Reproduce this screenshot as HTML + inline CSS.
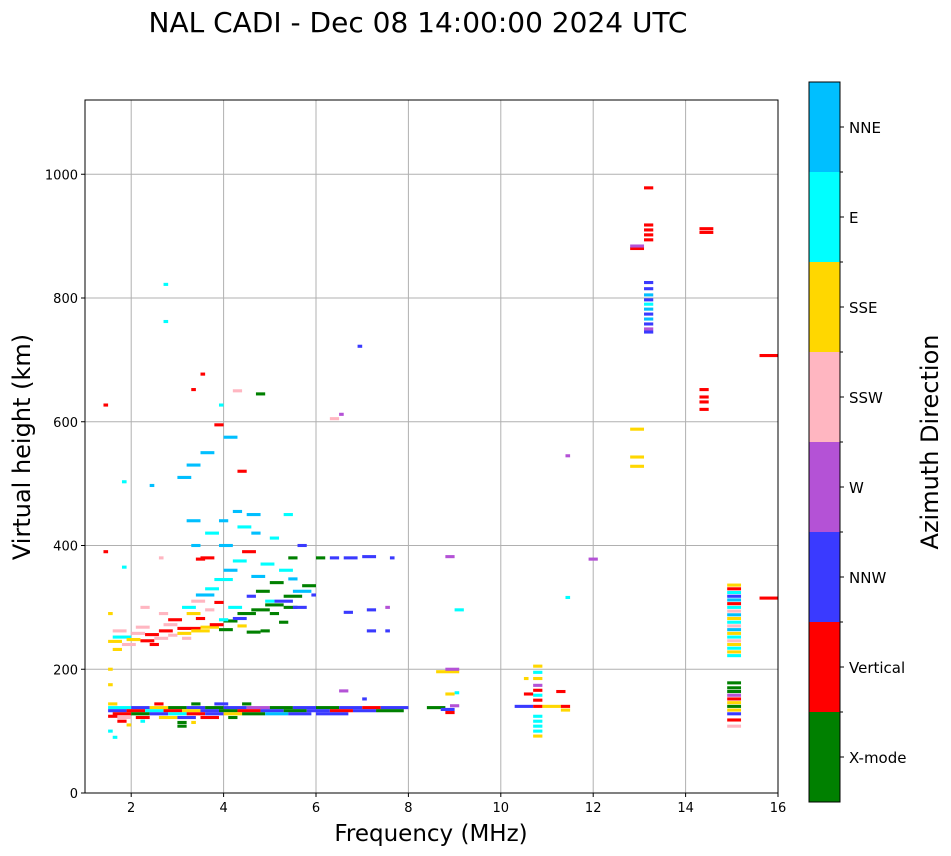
<!DOCTYPE html>
<html><head><meta charset="utf-8"><style>
html,body{margin:0;padding:0;background:#fff;}
svg{display:block;font-family:"DejaVu Sans","Liberation Sans",sans-serif;}
</style></head><body>
<svg id="chart" width="951" height="856" xmlns="http://www.w3.org/2000/svg">
<text x="418" y="32" font-size="28" text-anchor="middle">NAL CADI - Dec 08 14:00:00 2024 UTC</text>
<g id="grid"></g>
<g id="marks"></g>
<rect x="85" y="100" width="693" height="693" fill="none" stroke="#000" stroke-width="1"/>
<g id="axes"></g>
<text x="431" y="841" font-size="23" text-anchor="middle">Frequency (MHz)</text>
<text transform="translate(30,447) rotate(-90)" font-size="24" text-anchor="middle">Virtual height (km)</text>
<g id="cbar"></g>
<text transform="translate(938,442) rotate(-90)" font-size="24" text-anchor="middle">Azimuth Direction</text>
</svg>
<script>
const dirNames = ["X-mode","Vertical","NNW","W","SSW","SSE","E","NNE"];
const dirColors = ["#008000","#ff0000","#3a3aff","#b452d6","#ffb6c1","#ffd700","#00ffff","#00bfff"];
const xTicks = [2,4,6,8,10,12,14,16];
const yTicks = [0,200,400,600,800,1000];
const segStart = [];
const segEnd = [];
const segHeight = [];
const segDir = [];
const echoes = [
[1.5,2.0,138,6],[2.0,2.4,138,2],[2.4,2.8,138,5],[2.8,3.2,138,0],[3.2,3.6,138,2],[3.6,4.0,138,0],[4.0,4.5,138,2],[4.5,5.0,138,3],[5.0,5.5,138,0],[5.5,6.0,138,2],[6.0,6.5,138,0],[6.5,7.0,138,2],[7.0,7.4,138,1],[7.4,8.0,138,2],
[1.5,1.9,133,2],[1.9,2.3,133,1],[2.3,2.7,133,6],[2.7,3.1,133,1],[3.1,3.5,133,5],[3.5,3.9,133,2],[3.9,4.3,133,0],[4.3,4.8,133,1],[4.8,5.3,133,2],[5.3,5.8,133,0],[5.8,6.3,133,2],[6.3,6.8,133,1],[6.8,7.3,133,2],[7.3,7.9,133,0],
[1.6,2.0,128,1],[2.0,2.4,128,0],[2.4,2.8,128,2],[2.8,3.2,128,6],[3.2,3.6,128,1],[3.6,4.0,128,2],[4.0,4.4,128,5],[4.4,4.9,128,0],[4.9,5.4,128,7],[5.4,5.9,128,2],[6.0,6.7,128,2],
[1.7,2.0,122,4],[2.1,2.4,122,1],[2.6,3.0,122,5],[3.0,3.4,122,2],[3.5,3.9,122,1],[4.1,4.3,122,0],[1.5,1.7,124,1],
[1.7,1.9,116,1],[2.2,2.3,116,6],[3.0,3.2,114,0],[3.3,3.4,114,5],[3.0,3.2,108,0],[1.9,2.0,110,5],[1.5,1.6,100,6],[1.6,1.7,90,6],
[1.5,1.7,144,5],[2.5,2.7,144,1],[3.3,3.5,144,0],[3.8,4.1,144,2],[4.4,4.6,144,0],[7.0,7.1,152,2],[1.5,1.6,175,5],[1.5,1.6,200,5],
[8.4,8.8,138,0],[8.7,9.0,135,2],[8.8,9.0,130,1],[8.9,9.1,141,3],[9.0,9.1,162,6],[8.8,9.0,160,5],[8.6,9.1,196,5],[8.8,9.1,200,3],
[10.3,10.7,140,2],[10.7,10.9,140,1],[10.9,11.3,140,5],[11.2,11.4,164,1],[11.3,11.5,140,1],[11.3,11.5,134,5],
[10.7,10.9,92,5],[10.7,10.9,100,6],[10.7,10.9,108,6],[10.7,10.9,116,6],[10.7,10.9,124,6],[10.7,10.9,150,1],[10.7,10.9,158,6],[10.7,10.9,166,1],[10.7,10.9,174,3],[10.7,10.9,185,5],[10.7,10.9,195,6],[10.7,10.9,205,5],[10.5,10.7,160,1],[10.5,10.6,185,5],
[1.5,1.8,245,5],[1.6,2.0,252,6],[1.8,2.1,240,4],[2.0,2.3,258,4],[2.2,2.5,246,1],[2.3,2.6,256,1],[2.5,2.8,250,4],[2.6,2.9,262,1],[2.8,3.0,255,4],[3.0,3.3,258,5],[3.0,3.5,266,1],[3.3,3.7,262,5],[3.5,3.9,268,5],[3.7,4.0,272,1],[3.9,4.2,264,0],[4.0,4.3,278,0],[4.2,4.5,282,2],[4.5,4.8,260,0],[4.3,4.7,290,0],[4.6,5.0,296,0],[4.9,5.3,304,0],[5.1,5.5,310,2],[5.3,5.7,318,0],[5.5,5.9,326,7],[5.7,6.0,335,0],
[1.5,1.6,290,5],[1.6,1.8,232,5],[2.2,2.4,300,4],[2.6,2.8,290,4],[2.8,3.1,280,1],[3.1,3.4,300,6],[3.3,3.6,310,4],[3.4,3.8,320,7],[3.6,3.9,330,6],[3.8,4.2,345,6],[4.0,4.3,360,7],[4.2,4.5,375,6],[4.4,4.7,390,1],[4.6,4.9,350,7],[4.8,5.1,370,6],[5.0,5.3,340,0],[5.2,5.5,360,6],[5.4,5.6,380,0],[5.6,5.8,400,2],
[1.6,1.9,262,4],[1.9,2.2,248,5],[2.1,2.4,268,4],[2.4,2.6,240,1],[2.7,3.0,272,4],[3.1,3.3,250,4],[3.4,3.6,282,1],[3.2,3.5,290,5],[3.6,3.8,296,4],[3.8,4.0,308,1],[4.1,4.4,300,6],[4.5,4.7,318,2],[4.7,5.0,326,0],[5.0,5.2,290,0],[5.2,5.4,276,0],[4.8,5.0,262,0],[5.4,5.6,346,7],[5.0,5.2,412,6],[4.6,4.8,420,7],[3.9,4.1,440,7],[4.2,4.4,455,7],[5.3,5.5,450,6],[4.9,5.1,310,6],[5.3,5.6,300,0],[4.3,4.5,270,5],[3.9,4.1,280,6],
[3.5,3.8,380,1],[3.3,3.5,400,7],[3.6,3.9,420,6],[3.9,4.2,400,7],[4.3,4.6,430,6],[4.5,4.8,450,7],[3.2,3.5,440,7],[3.0,3.3,510,7],[3.2,3.5,530,7],[3.5,3.8,550,7],[4.0,4.3,575,7],[4.3,4.5,520,1],[1.8,1.9,503,6],[2.4,2.5,497,7],[3.8,4.0,595,1],[3.9,4.0,627,6],[4.2,4.4,650,4],[4.7,4.9,645,0],[3.5,3.6,677,1],[1.4,1.5,627,1],[1.4,1.5,390,1],[1.8,1.9,365,6],[2.6,2.7,380,4],[3.4,3.6,378,1],
[5.5,5.8,300,2],[5.9,6.0,320,2],[6.0,6.2,380,0],[6.3,6.5,380,2],[6.6,6.9,380,2],[7.0,7.3,382,2],[7.6,7.7,380,2],[6.6,6.8,292,2],[7.1,7.3,296,2],[7.5,7.6,300,3],[7.1,7.3,262,2],[7.5,7.6,262,2],[6.5,6.7,165,3],[6.3,6.5,605,4],[6.5,6.6,612,3],[6.9,7.0,722,2],[8.8,9.0,382,3],[9.0,9.2,296,6],[11.9,12.1,378,3],[11.4,11.5,545,3],[11.4,11.5,316,6],[2.7,2.8,822,6],[2.7,2.8,762,6],[3.3,3.4,652,1],
[13.1,13.3,978,1],[13.1,13.3,918,1],[13.1,13.3,910,1],[13.1,13.3,902,1],[13.1,13.3,894,1],[12.8,13.1,880,1],[12.8,13.1,884,3],[13.1,13.3,825,2],[13.1,13.3,815,2],[13.1,13.3,805,7],[13.1,13.3,797,2],[13.1,13.3,790,6],[13.1,13.3,782,7],[13.1,13.3,774,2],[13.1,13.3,766,7],[13.1,13.3,758,2],[13.1,13.3,750,3],[13.1,13.3,745,2],
[12.8,13.1,588,5],[12.8,13.1,543,5],[12.8,13.1,528,5],
[14.3,14.6,912,1],[14.3,14.6,906,1],[14.3,14.5,652,1],[14.3,14.5,640,1],[14.3,14.5,632,1],[14.3,14.5,620,1],
[15.6,16.0,707,1],[15.6,16.0,315,1],
[14.9,15.2,336,5],[14.9,15.2,330,1],[14.9,15.2,324,6],[14.9,15.2,318,2],[14.9,15.2,312,7],[14.9,15.2,306,1],[14.9,15.2,300,6],[14.9,15.2,294,4],[14.9,15.2,288,7],[14.9,15.2,282,5],[14.9,15.2,276,6],[14.9,15.2,270,4],[14.9,15.2,264,7],[14.9,15.2,258,5],[14.9,15.2,252,6],[14.9,15.2,246,4],[14.9,15.2,240,5],[14.9,15.2,234,6],[14.9,15.2,228,5],[14.9,15.2,222,6],
[14.9,15.2,178,0],[14.9,15.2,170,0],[14.9,15.2,164,0],[14.9,15.2,158,3],[14.9,15.2,152,1],[14.9,15.2,146,5],[14.9,15.2,140,0],[14.9,15.2,134,5],[14.9,15.2,128,2],[14.9,15.2,118,1],[14.9,15.2,108,4]
];
echoes.forEach(e=>{segStart.push(e[0]);segEnd.push(e[1]);segHeight.push(e[2]);segDir.push(e[3]);});

const NS="http://www.w3.org/2000/svg";
const X0=85,X1=778,Y0=793,Y1=100,FMIN=1,FMAX=16,HMIN=0,HMAX=1120;
function xs(f){return X0+(f-FMIN)/(FMAX-FMIN)*(X1-X0);}
function ys(h){return Y0-(h-HMIN)/(HMAX-HMIN)*(Y0-Y1);}
function mk(tag,attrs,parent){const el=document.createElementNS(NS,tag);for(const k in attrs)el.setAttribute(k,attrs[k]);parent.appendChild(el);return el;}
const grid=document.getElementById('grid'),marks=document.getElementById('marks'),axes=document.getElementById('axes'),cbar=document.getElementById('cbar');
xTicks.forEach(t=>{
  const x=xs(t);
  if(t<FMAX){const g=mk('line',{x1:x,x2:x,y1:Y1,y2:Y0,stroke:'#b0b0b0','stroke-width':1},grid);
  
  }
  mk('line',{x1:x,x2:x,y1:Y0,y2:Y0+4,stroke:'#000'},axes);
  const tx=mk('text',{x:x,y:Y0+19,'font-size':13,'text-anchor':'middle'},axes);tx.textContent=t;
  
  
});
yTicks.forEach(t=>{
  const y=ys(t);
  if(t>0){const g=mk('line',{x1:X0,x2:X1,y1:y,y2:y,stroke:'#b0b0b0','stroke-width':1},grid);
  
  }
  mk('line',{x1:X0-4,x2:X0,y1:y,y2:y,stroke:'#000'},axes);
  const tx=mk('text',{x:X0-7,y:y+5,'font-size':13,'text-anchor':'end'},axes);tx.textContent=t;
  
  
});
for(let i=0;i<segStart.length;i++){
  const x=xs(segStart[i]),w=Math.max(2,xs(segEnd[i])-x),y=ys(segHeight[i]+2.5),h=Math.max(3,ys(segHeight[i]-2.5)-y);
  const r=mk('rect',{x:x,y:y,width:w,height:h,fill:dirColors[segDir[i]]},marks);
  
  
}
const CBX=809,CBW=31,CBT=82,CBB=802,n=dirNames.length,sh=(CBB-CBT)/n;
for(let i=0;i<n;i++){
  const y=CBB-(i+1)*sh;
  const r=mk('rect',{x:CBX,y:y,width:CBW,height:sh,fill:dirColors[i]},cbar);
  
  
  mk('line',{x1:CBX+CBW,x2:CBX+CBW+4,y1:y+sh/2,y2:y+sh/2,stroke:'#000'},cbar);
  if(i<n-1) mk('line',{x1:CBX+CBW,x2:CBX+CBW+3,y1:y,y2:y,stroke:'#000'},cbar);
  const tx=mk('text',{x:CBX+CBW+9,y:y+sh/2+6,'font-size':15},cbar);tx.textContent=dirNames[i];
  
  
}
mk('rect',{x:CBX,y:CBT,width:CBW,height:CBB-CBT,fill:'none',stroke:'#000'},cbar);
</script>
</body></html>
